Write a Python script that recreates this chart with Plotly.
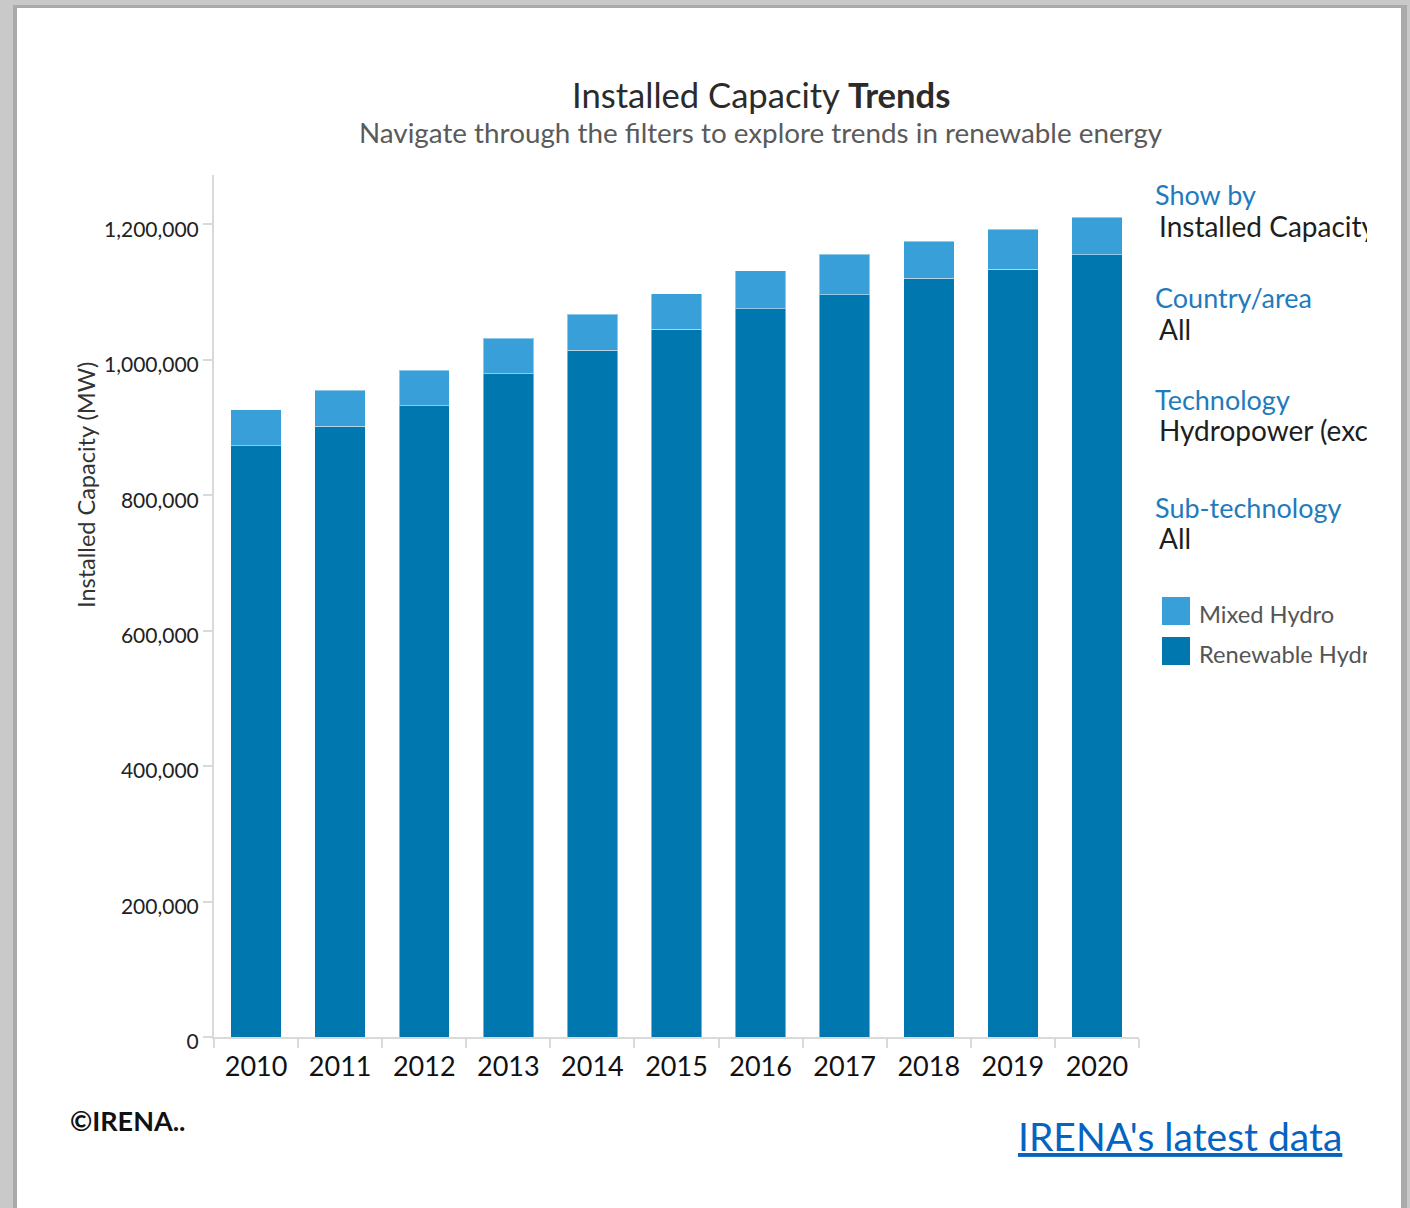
import plotly.graph_objects as go

# ---- data (MW) ----
years = ["2010", "2011", "2012", "2013", "2014", "2015", "2016", "2017", "2018", "2019", "2020"]
renewable_hydro = [873000, 902000, 932000, 979000, 1014000, 1045000, 1075000, 1096000, 1120000, 1134000, 1155000]
mixed_hydro = [53000, 53000, 52500, 52700, 53100, 52700, 56500, 59600, 55200, 58600, 55300]
y_ticks = [0, 200000, 400000, 600000, 800000, 1000000, 1200000]

filter_labels = ["Show by", "Country/area", "Technology", "Sub-technology"]
filter_values = ["Installed Capacity", "All", "Hydropower (excl. Pumped Storage)", "All"]
legend_names = ["Mixed Hydro", "Renewable Hydropower"]

# ---- styling ----
W, H = 1410, 1208
FONT = "Lato"
C_RENEW = "#0077AE"
C_MIXED = "#389FD8"
C_FILTER = "#1F7BBE"
AXIS_GREY = "#D9D9D9"


def fx(px):
    return px / W


def fy(py):
    return 1 - py / H


fig = go.Figure()

fig.add_trace(go.Bar(
    x=years, y=renewable_hydro, name=legend_names[1],
    marker=dict(color=C_RENEW, line=dict(color="rgba(255,255,255,0.45)", width=1)),
    showlegend=False, xaxis="x", yaxis="y",
))
fig.add_trace(go.Bar(
    x=years, y=mixed_hydro, name=legend_names[0],
    marker=dict(color=C_MIXED, line=dict(color="rgba(255,255,255,0.45)", width=1)),
    showlegend=False, xaxis="x", yaxis="y",
))

# ---- side filter panel, drawn in a pixel-scaled helper subplot so that long
# values are cut off at the panel edge ----
label_y = [198, 301, 403, 511]
value_y = [230, 333, 434, 542]
fig.add_trace(go.Scatter(
    x=[1155] * len(filter_labels), y=label_y, text=filter_labels,
    mode="text", textposition="middle right",
    textfont=dict(family=FONT, size=27, color=C_FILTER),
    cliponaxis=True, showlegend=False, hoverinfo="skip",
    xaxis="x2", yaxis="y2",
))
fig.add_trace(go.Scatter(
    x=[1159] * len(filter_values), y=value_y, text=filter_values,
    mode="text", textposition="middle right",
    textfont=dict(family=FONT, size=28, color="#1E1E1E"),
    cliponaxis=True, showlegend=False, hoverinfo="skip",
    xaxis="x2", yaxis="y2",
))
# legend swatches and names
fig.add_trace(go.Scatter(
    x=[1176, 1176], y=[611, 651], mode="markers",
    marker=dict(symbol="square", size=28, color=[C_MIXED, C_RENEW], line=dict(width=0)),
    cliponaxis=True, showlegend=False, hoverinfo="skip",
    xaxis="x2", yaxis="y2",
))
fig.add_trace(go.Scatter(
    x=[1199, 1199], y=[617, 657], text=legend_names,
    mode="text", textposition="middle right",
    textfont=dict(family=FONT, size=23.7, color="#555555"),
    cliponaxis=True, showlegend=False, hoverinfo="skip",
    xaxis="x2", yaxis="y2",
))

y_top_px, y_zero_px = 175, 1037
mw_per_px = 1200000 / (y_zero_px - 224.3)

fig.update_layout(
    width=W, height=H,
    margin=dict(l=0, r=0, t=0, b=0, pad=0),
    paper_bgcolor="#C8C9C8",
    plot_bgcolor="rgba(0,0,0,0)",
    barmode="stack",
    bargap=0.4,
    font=dict(family=FONT, color="#222222"),
    xaxis=dict(
        domain=[fx(214), fx(1139)], type="category", automargin=False,
        showline=True, linecolor=AXIS_GREY, linewidth=2,
        ticks="outside", tickson="boundaries", ticklen=9, tickcolor=AXIS_GREY, tickwidth=2,
        ticklabelstandoff=5,
        tickfont=dict(family=FONT, size=27, color="#111111"),
        showgrid=False, zeroline=False, anchor="y", fixedrange=True,
    ),
    yaxis=dict(
        domain=[fy(y_zero_px), fy(y_top_px)], automargin=False,
        range=[0, (y_zero_px - y_top_px) * mw_per_px],
        tickvals=y_ticks, tickformat=",",
        showline=True, linecolor=AXIS_GREY, linewidth=2,
        ticks="outside", ticklen=9, tickcolor=AXIS_GREY, tickwidth=2,
        ticklabelshift=5,
        tickfont=dict(family=FONT, size=21, color="#222222"),
        showgrid=False, zeroline=False, anchor="x",
        fixedrange=True,
    ),
    xaxis2=dict(domain=[fx(1140), fx(1367)], range=[1140, 1367], visible=False,
                anchor="y2", fixedrange=True, automargin=False),
    yaxis2=dict(domain=[0, 1], range=[H, 0], visible=False, anchor="x2",
                fixedrange=True, automargin=False),
    shapes=[
        # card shadow and card
        dict(type="rect", xref="paper", yref="paper", x0=fx(13), x1=fx(1407), y0=0, y1=fy(5),
             fillcolor="#A9AAA9", line=dict(width=0), layer="below"),
        dict(type="rect", xref="paper", yref="paper", x0=fx(17), x1=fx(1401), y0=0, y1=fy(8),
             fillcolor="#FFFFFF", line=dict(width=0), layer="below"),
    ],
    annotations=[
        dict(text="Installed Capacity <b>Trends</b>", xref="paper", yref="paper",
             x=fx(761), y=fy(95), xanchor="center", yanchor="middle", showarrow=False,
             font=dict(family=FONT, size=34.6, color="#2B2B2B")),
        dict(text="Navigate through the filters to explore trends in renewable energy",
             xref="paper", yref="paper", x=fx(761), y=fy(133), xanchor="center", yanchor="middle",
             showarrow=False, font=dict(family=FONT, size=27.8, color="#5A5A5A")),
        dict(text="Installed Capacity (MW)", xref="paper", yref="paper",
             x=fx(86), y=fy(485), xanchor="center", yanchor="middle", textangle=-90,
             showarrow=False, font=dict(family=FONT, size=23.5, color="#333333")),
        dict(text="<b>©IRENA..</b>", xref="paper", yref="paper", x=fx(68), y=fy(1120),
             xanchor="left", yanchor="middle", showarrow=False,
             font=dict(family=FONT, size=27, color="#111111")),
        dict(text="<u>IRENA's latest data</u>", xref="paper", yref="paper", x=fx(1344), y=fy(1136),
             xanchor="right", yanchor="middle", showarrow=False,
             font=dict(family=FONT, size=39, color="#0563C1")),
    ],
)

fig.write_html("out.html")
